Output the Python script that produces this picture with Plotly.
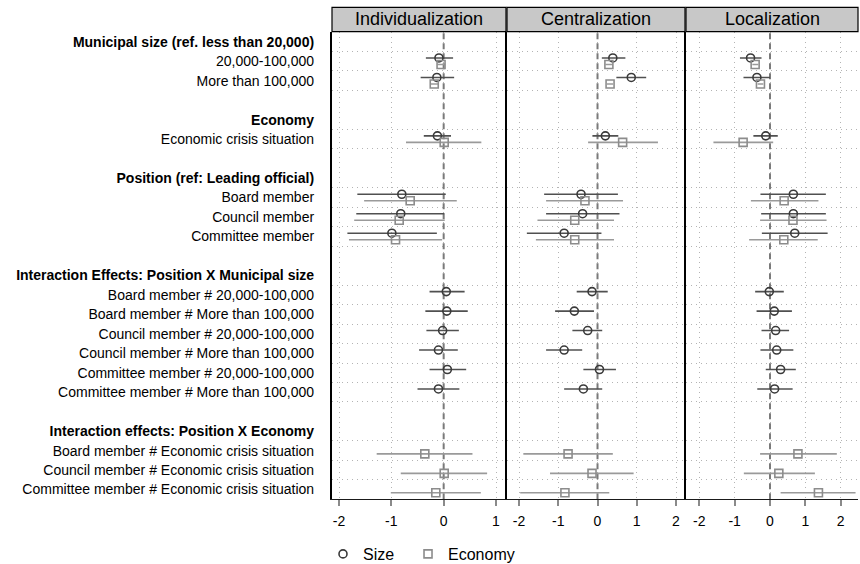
import plotly.graph_objects as go

# ---- row layout (top to bottom) ----
row_labels = [
    "<b>Municipal size (ref. less than 20,000)</b>",
    "20,000-100,000",
    "More than 100,000",
    "",
    "<b>Economy</b>",
    "Economic crisis situation",
    "",
    "<b>Position (ref: Leading official)</b>",
    "Board member",
    "Council member",
    "Committee member",
    "",
    "<b>Interaction Effects: Position X Municipal size</b>",
    "Board member # 20,000-100,000",
    "Board member # More than 100,000",
    "Council member # 20,000-100,000",
    "Council member # More than 100,000",
    "Committee member # 20,000-100,000",
    "Committee member # More than 100,000",
    "",
    "<b>Interaction effects: Position X Economy</b>",
    "Board member # Economic crisis situation",
    "Council member # Economic crisis situation",
    "Committee member # Economic crisis situation",
]

# rows holding coefficients of each model
size_rows = [1, 2, 5, 8, 9, 10, 13, 14, 15, 16, 17, 18]
econ_rows = [1, 2, 5, 8, 9, 10, 21, 22, 23]

panels = ["Individualization", "Centralization", "Localization"]
series_names = ["Size", "Economy"]

# ---- estimates and confidence limits ----
ind_size_est = [-0.09, -0.13, -0.12, -0.80, -0.82, -0.99, 0.05, 0.06, -0.02, -0.10, 0.07, -0.10]
ind_size_lo = [-0.34, -0.44, -0.38, -1.65, -1.67, -1.84, -0.27, -0.35, -0.33, -0.47, -0.27, -0.50]
ind_size_hi = [0.18, 0.20, 0.14, 0.04, 0.01, -0.13, 0.40, 0.46, 0.29, 0.27, 0.43, 0.30]

ind_econ_est = [-0.05, -0.18, 0.01, -0.64, -0.85, -0.92, -0.36, 0.01, -0.15]
ind_econ_lo = [-0.12, -0.25, -0.72, -1.52, -1.71, -1.81, -1.28, -0.82, -1.01]
ind_econ_hi = [0.03, -0.10, 0.72, 0.25, 0.02, -0.03, 0.55, 0.83, 0.71]

cen_size_est = [0.39, 0.86, 0.20, -0.42, -0.38, -0.85, -0.14, -0.59, -0.25, -0.85, 0.05, -0.36]
cen_size_lo = [0.11, 0.48, -0.13, -1.36, -1.31, -1.80, -0.53, -1.08, -0.64, -1.31, -0.36, -0.85]
cen_size_hi = [0.71, 1.24, 0.53, 0.52, 0.56, 0.10, 0.26, -0.09, 0.12, -0.39, 0.47, 0.12]

cen_econ_est = [0.29, 0.32, 0.64, -0.32, -0.58, -0.58, -0.75, -0.14, -0.83]
cen_econ_lo = [0.20, 0.24, -0.24, -1.31, -1.53, -1.57, -1.89, -1.21, -1.97]
cen_econ_hi = [0.38, 0.40, 1.54, 0.65, 0.42, 0.42, 0.39, 0.92, 0.30]

loc_size_est = [-0.55, -0.37, -0.12, 0.66, 0.66, 0.70, -0.02, 0.12, 0.16, 0.19, 0.30, 0.13]
loc_size_lo = [-0.85, -0.75, -0.47, -0.27, -0.25, -0.23, -0.42, -0.38, -0.24, -0.27, -0.12, -0.36]
loc_size_hi = [-0.24, 0.00, 0.22, 1.58, 1.58, 1.63, 0.39, 0.62, 0.54, 0.66, 0.73, 0.64]

loc_econ_est = [-0.42, -0.27, -0.76, 0.40, 0.65, 0.39, 0.79, 0.25, 1.37]
loc_econ_lo = [-0.50, -0.35, -1.60, -0.54, -0.28, -0.59, -0.28, -0.74, 0.30]
loc_econ_hi = [-0.33, -0.19, 0.09, 1.37, 1.60, 1.35, 1.89, 1.27, 2.42]

x_ticks = [[-2, -1, 0, 1], [-2, -1, 0, 1, 2], [-2, -1, 0, 1, 2]]
x_ranges = [[-2.134, 1.191], [-2.306, 2.229], [-2.376, 2.489]]

# ---- page geometry (pixels) ----
W, H = 860, 564
panel_px = [(332, 506), (507, 685), (686, 858)]
plot_top, plot_bottom = 32, 499.3
strip_top, strip_bottom = 7.3, 31.7
legend_mid = 554

FONT = "Liberation Sans, Arial, Helvetica, sans-serif"
SIZE_COLOR = "#3a3a3a"
SIZE_CI = "#505050"
ECON_COLOR = "#8c8c8c"
ECON_CI = "#9a9a9a"
GRID_COLOR = "#b4b4b4"
ZERO_COLOR = "#7a7a7a"
OFFSET = 0.167
NBSP = "\u00a0"

data = [
    (ind_size_est, ind_size_lo, ind_size_hi, ind_econ_est, ind_econ_lo, ind_econ_hi),
    (cen_size_est, cen_size_lo, cen_size_hi, cen_econ_est, cen_econ_lo, cen_econ_hi),
    (loc_size_est, loc_size_lo, loc_size_hi, loc_econ_est, loc_econ_lo, loc_econ_hi),
]

y_range = [len(row_labels) - 0.5, -0.5]

fig = go.Figure()

for i, (se, sl, sh, ee, el, eh) in enumerate(data):
    xa = "x" if i == 0 else f"x{i + 1}"
    ya = "y" if i == 0 else f"y{i + 1}"
    # dashed reference line at zero, beneath the estimates
    fig.add_trace(go.Scatter(
        x=[0, 0], y=y_range, xaxis=xa, yaxis=ya, mode="lines",
        showlegend=False, hoverinfo="skip",
        line=dict(color=ZERO_COLOR, width=2, dash="6px,4px"),
    ))
    fig.add_trace(go.Scatter(
        x=se, y=[r - OFFSET for r in size_rows], xaxis=xa, yaxis=ya,
        mode="markers", name=series_names[0] + NBSP * 2,
        showlegend=(i == 0), legendrank=1,
        marker=dict(symbol="circle-open", size=8, color=SIZE_COLOR,
                    line=dict(width=1.6, color=SIZE_COLOR)),
        error_x=dict(type="data", symmetric=False,
                     array=[h - e for h, e in zip(sh, se)],
                     arrayminus=[e - l for e, l in zip(se, sl)],
                     color=SIZE_CI, thickness=1.6, width=0),
    ))
    fig.add_trace(go.Scatter(
        x=ee, y=[r + OFFSET for r in econ_rows], xaxis=xa, yaxis=ya,
        mode="markers", name=series_names[1],
        showlegend=(i == 0), legendrank=2,
        marker=dict(symbol="square-open", size=8, color=ECON_COLOR,
                    line=dict(width=1.6, color=ECON_COLOR)),
        error_x=dict(type="data", symmetric=False,
                     array=[h - e for h, e in zip(eh, ee)],
                     arrayminus=[e - l for e, l in zip(ee, el)],
                     color=ECON_CI, thickness=1.6, width=0),
    ))

# gridlines between neighbouring coefficient rows
coef_rows = sorted(set(size_rows) | set(econ_rows))
between = sorted({r - 0.5 for r in coef_rows} | {r + 0.5 for r in coef_rows})

ydom = [(H - plot_bottom) / H, (H - plot_top) / H]
layout = dict(
    width=W, height=H,
    margin=dict(l=0, r=0, t=0, b=0, autoexpand=False),
    paper_bgcolor="white", plot_bgcolor="white",
    font=dict(family=FONT, size=14, color="black"),
    showlegend=True,
    legend=dict(orientation="h", x=323 / W, xanchor="left",
                y=(H - legend_mid) / H, yanchor="middle",
                font=dict(size=16, color="black"),
                bgcolor="rgba(0,0,0,0)"),
)

shapes = []
annotations = []
for i in range(3):
    sfx = "" if i == 0 else str(i + 1)
    x0, x1 = panel_px[i]
    layout[f"xaxis{sfx}"] = dict(
        domain=[x0 / W, x1 / W], anchor=f"y{sfx}", range=x_ranges[i],
        tickmode="array", tickvals=x_ticks[i],
        ticktext=[str(v) for v in x_ticks[i]],
        showgrid=True, gridcolor=GRID_COLOR, griddash="1px,4px", gridwidth=1,
        zeroline=False, showline=True, linecolor="#1a1a1a", linewidth=1.2,
        ticks="outside", ticklen=6, tickwidth=1.5, tickcolor="#8a8a8a",
        ticklabelstandoff=3,
        tickfont=dict(size=14, color="black"),
    )
    layout[f"yaxis{sfx}"] = dict(
        domain=ydom, anchor=f"x{sfx}", range=y_range,
        tickmode="array", tickvals=list(range(len(row_labels))),
        ticktext=row_labels, showticklabels=(i == 0),
        ticks="", showgrid=False, zeroline=False,
        showline=True, linecolor="black", linewidth=2.2,
        ticklabelstandoff=13,
        tickfont=dict(size=14, color="black"),
        minor=dict(tickmode="array", tickvals=between, showgrid=True,
                   gridcolor=GRID_COLOR, griddash="1px,4px", gridwidth=1,
                   ticks=""),
    )
    if i > 0:
        layout[f"yaxis{sfx}"]["matches"] = "y"

    # panel title strip
    shapes.append(dict(type="rect", xref="paper", yref="paper",
                       x0=x0 / W, x1=x1 / W,
                       y0=(H - strip_bottom) / H, y1=(H - strip_top) / H,
                       fillcolor="#c8c8c8", line=dict(color="black", width=1.2),
                       layer="above"))
    annotations.append(dict(text=panels[i], xref="paper", yref="paper",
                            x=(x0 + x1) / 2 / W,
                            y=(H - (strip_top + strip_bottom) / 2) / H,
                            showarrow=False, xanchor="center", yanchor="middle",
                            font=dict(size=18, color="black")))

layout["shapes"] = shapes
layout["annotations"] = annotations
fig.update_layout(**layout)

fig.write_html("out.html")
